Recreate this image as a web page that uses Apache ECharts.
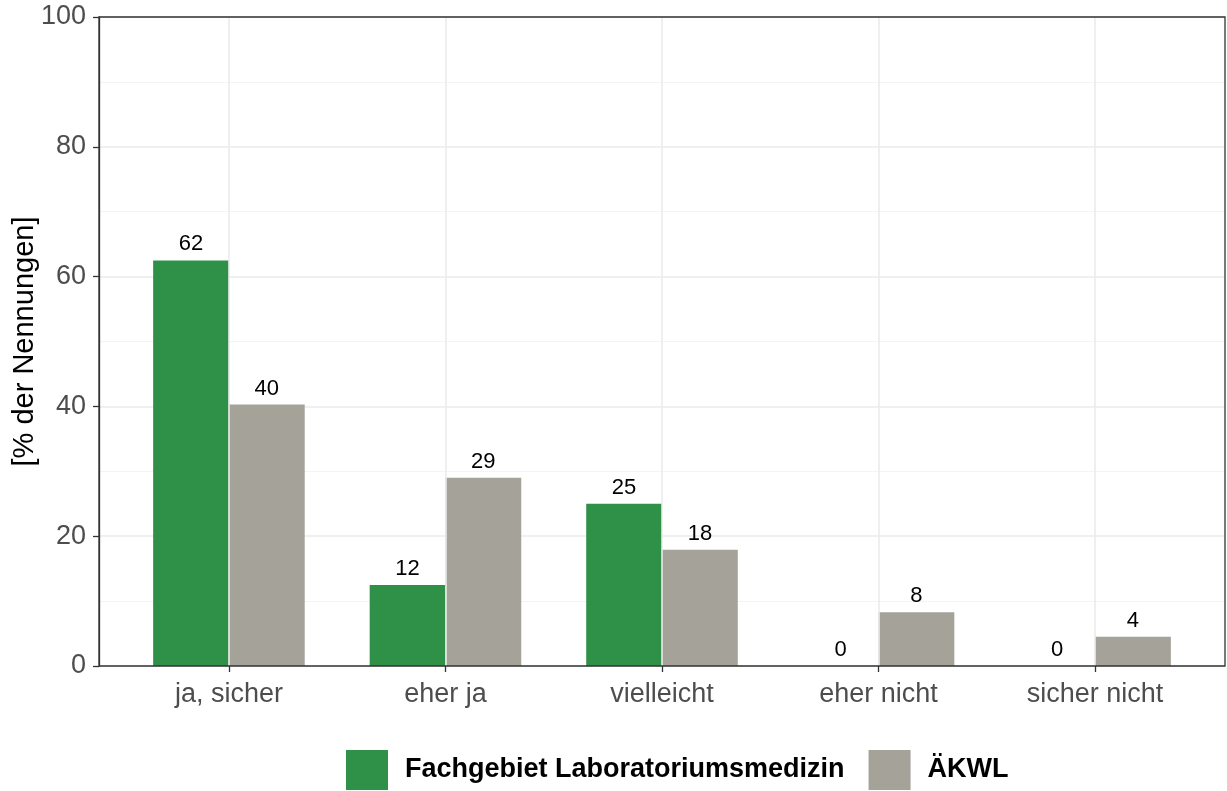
<!DOCTYPE html>
<html><head><meta charset="utf-8">
<script src="https://cdn.jsdelivr.net/npm/echarts@6/dist/echarts.min.js"></script>
<style>html,body{margin:0;padding:0;background:#fff}#c{width:1227px;height:791px}</style>
</head><body><div id="c"></div>
<script>
const categories = ['ja, sicher', 'eher ja', 'vielleicht', 'eher nicht', 'sicher nicht'];
const seriesNames = ['Fachgebiet Laboratoriumsmedizin', 'ÄKWL'];
const labValues = [62.5, 12.5, 25, 0, 0];
const akwlValues = [40.3, 29, 17.9, 8.3, 4.5];
const labLabels = ['62', '12', '25', '0', '0'];
const akwlLabels = ['40', '29', '18', '8', '4'];
const yTicks = [0, 20, 40, 60, 80, 100];

const FONT = 'Liberation Sans, Arial, sans-serif';
const chart = echarts.init(document.getElementById('c'), null, {renderer: 'canvas'});
const L = 99, R = 1225, T = 17, B = 666, W = 1227, H = 791;
const band = (R - L) / (categories.length + 0.2);
function lbl(arr) {
  return {show: true, position: 'top', distance: 5, fontSize: 22, color: '#000', fontFamily: FONT,
    formatter: p => arr[p.dataIndex]};
}
chart.setOption({
  animation: false,
  textStyle: {fontFamily: FONT},
  grid: [
    {left: L, right: W - R, top: T, bottom: H - B, show: false, containLabel: false, outerBoundsMode: 'none'},
    {left: L + 0.1 * band, right: W - R + 0.1 * band, top: T, bottom: H - B, containLabel: false, outerBoundsMode: 'none'}
  ],
  graphic: [{type: 'rect', z: 100, silent: true,
    shape: {x: L, y: T, width: R - L, height: B - T},
    style: {fill: 'none', stroke: '#333', lineWidth: 1.3}}],
  xAxis: [
    {gridIndex: 0, type: 'value', show: false, min: 0, max: 1},
    {gridIndex: 1, type: 'category', data: categories,
      axisLine: {show: false},
      axisTick: {show: true, alignWithLabel: true, length: 6, lineStyle: {color: '#333', width: 1.3}},
      axisLabel: {color: '#4D4D4D', fontSize: 27, margin: 15, fontFamily: FONT},
      splitLine: {show: false}}
  ],
  yAxis: [
    {gridIndex: 0, type: 'value', min: yTicks[0], max: yTicks[yTicks.length - 1], interval: 20,
      name: '[% der Nennungen]', nameLocation: 'middle', nameGap: 60, nameRotate: 90, nameMoveOverlap: false,
      nameTextStyle: {fontSize: 29, color: '#000', fontFamily: FONT},
      axisLine: {show: true, lineStyle: {color: '#333', width: 1.3}},
      axisTick: {show: true, length: 6, lineStyle: {color: '#333', width: 1.3}},
      axisLabel: {color: '#4D4D4D', fontSize: 27, margin: 13, fontFamily: FONT},
      splitLine: {show: true, lineStyle: {color: '#EBEBEB', width: 1.6}},
      minorTick: {show: false, splitNumber: 2},
      minorSplitLine: {show: true, lineStyle: {color: '#F3F3F3', width: 0.9}}},
    {gridIndex: 1, type: 'value', min: 0, max: 100, show: false, splitLine: {show: false}}
  ],
  legend: {
    top: 750, left: 346, itemWidth: 42, itemHeight: 40, itemGap: 24,
    icon: 'rect', padding: 0,
    textStyle: {fontSize: 27, fontWeight: 'bold', color: '#000', fontFamily: FONT, padding: [0, 0, 0, 12]},
    data: seriesNames
  },
  series: [
    {type: 'line', xAxisIndex: 1, yAxisIndex: 1, data: [], z: 1, silent: true,
      markLine: {silent: true, symbol: 'none', label: {show: false},
        lineStyle: {color: '#EBEBEB', width: 1.6, type: 'solid'},
        data: categories.map(c => ({xAxis: c}))}},
    {name: seriesNames[0], type: 'bar', xAxisIndex: 1, yAxisIndex: 1, data: labValues,
      barWidth: '35%', barGap: '0%', z: 3, itemStyle: {color: '#2F9148'}, label: lbl(labLabels)},
    {name: seriesNames[1], type: 'bar', xAxisIndex: 1, yAxisIndex: 1, data: akwlValues,
      barWidth: '35%', barGap: '0%', z: 3, itemStyle: {color: '#A5A29A'}, label: lbl(akwlLabels)}
  ]
});
</script></body></html>
